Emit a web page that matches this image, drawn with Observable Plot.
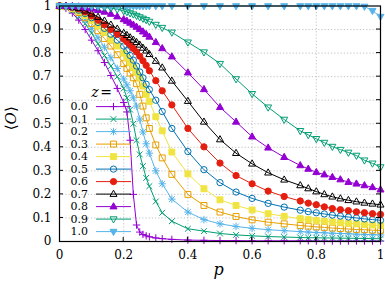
<!DOCTYPE html>
<html><head><meta charset="utf-8">
<script src="https://cdn.jsdelivr.net/npm/d3@7"></script>
<script src="https://cdn.jsdelivr.net/npm/@observablehq/plot@0.6"></script>
<style>
html,body{margin:0;padding:0;background:#fff;}
#chart{width:385px;height:282px;position:relative;}
#chart svg, #chart svg text, #chart svg tspan{font-family:"DejaVu Serif","Liberation Serif",serif !important;}
</style></head><body><div id="chart"></div>
<script>
// ---- data ----
const p = [0,0.02,0.04,0.06,0.08,0.1,0.12,0.14,0.16,0.18,0.2,0.21,0.22,0.23,0.24,0.25,0.26,0.27,0.28,0.3,0.32,0.35,0.4,0.45,0.5,0.55,0.6,0.65,0.7,0.75,0.775,0.8,0.825,0.85,0.875,0.9,0.925,0.95,0.975,1];
const zLabels = ["0.0","0.1","0.2","0.3","0.4","0.5","0.6","0.7","0.8","0.9","1.0"];
const z00 = [1,0.99,0.97,0.94,0.9, 0.855,0.81,0.76,0.705,0.65, 0.59,0.55,0.43,0.2,0.07, 0.04,0.03,0.024,0.02,0.015, 0.012,0.009,0.006,0.005,0.004, 0.004,0.003,0.003,0.003,0.003, 0.003,0.002,0.002,0.002,0.002, 0.002,0.002,0.002,0.002,0.002];
const z01 = [1,0.995,0.98,0.955,0.925, 0.885,0.84,0.79,0.745,0.7, 0.65,0.61,0.56,0.5,0.43, 0.37,0.32,0.27,0.235,0.17, 0.122,0.086,0.054,0.044,0.034, 0.028,0.024,0.021,0.019,0.017, 0.016,0.016,0.015,0.015,0.014, 0.014,0.013,0.013,0.012,0.012];
const z02 = [1,0.997,0.985,0.965,0.94, 0.905,0.865,0.825,0.78,0.735, 0.69,0.665,0.64,0.61,0.575, 0.52,0.465,0.415,0.375,0.3, 0.245,0.18,0.125,0.093,0.075, 0.064,0.056,0.05,0.046,0.042, 0.04,0.038,0.037,0.035,0.034, 0.033,0.031,0.03,0.029,0.028];
const z03 = [1,0.997,0.988,0.972,0.95, 0.925,0.895,0.862,0.83,0.793, 0.755,0.735,0.715,0.695,0.67, 0.625,0.575,0.525,0.48,0.41, 0.355,0.285,0.2,0.153,0.125, 0.106,0.092,0.082,0.075,0.068, 0.065,0.062,0.06,0.057,0.055, 0.053,0.051,0.05,0.048,0.047];
const z04 = [1,0.998,0.99,0.977,0.96, 0.94,0.915,0.888,0.858,0.83, 0.8,0.78,0.76,0.74,0.72, 0.695,0.66,0.625,0.595,0.53, 0.47,0.38,0.287,0.224,0.177, 0.153,0.134,0.118,0.107,0.097, 0.093,0.089,0.086,0.083,0.08, 0.077,0.075,0.072,0.07,0.068];
const z05 = [1,0.998,0.993,0.982,0.968, 0.95,0.93,0.905,0.88,0.855, 0.83,0.81,0.79,0.77,0.745, 0.72,0.695,0.668,0.645,0.6, 0.552,0.48,0.382,0.305,0.25, 0.21,0.183,0.162,0.146,0.133, 0.127,0.122,0.117,0.112,0.108, 0.104,0.1,0.096,0.093,0.09];
const z06 = [1,0.999,0.995,0.988,0.975, 0.958,0.94,0.92,0.9,0.88, 0.86,0.848,0.835,0.82,0.805, 0.787,0.767,0.748,0.725,0.683, 0.64,0.58,0.48,0.402,0.333, 0.28,0.245,0.214,0.191,0.172, 0.163,0.156,0.147,0.14,0.135, 0.131,0.126,0.122,0.118,0.115];
const z07 = [1,0.999,0.996,0.99,0.98, 0.967,0.953,0.937,0.92,0.903, 0.885,0.876,0.866,0.856,0.846, 0.835,0.822,0.81,0.795,0.766, 0.738,0.682,0.596,0.508,0.433, 0.375,0.33,0.292,0.262,0.238, 0.225,0.212,0.2,0.19,0.182, 0.175,0.169,0.164,0.16,0.156];
const z08 = [1,1,0.999,0.997,0.993, 0.988,0.982,0.975,0.966,0.955, 0.943,0.936,0.928,0.92,0.911, 0.901,0.891,0.88,0.869,0.846, 0.82,0.785,0.717,0.646,0.57, 0.508,0.445,0.398,0.358,0.323, 0.308,0.294,0.284,0.273,0.263, 0.252,0.245,0.238,0.23,0.22];
const z09 = [1,1,1,0.999,0.999, 0.998,0.996,0.994,0.991,0.986, 0.979,0.975,0.97,0.965,0.959, 0.953,0.947,0.941,0.934,0.921, 0.908,0.888,0.846,0.804,0.755, 0.69,0.627,0.57,0.518,0.47, 0.453,0.436,0.42,0.403,0.39, 0.378,0.365,0.345,0.332,0.316];
const z10 = [1,1,1,1,1, 1,1,1,1,1, 1,1,1,1,1, 1,1,1,1,1, 1,1,1,1,1, 1,1,1,1,1, 1,1,1,1,1, 1,1,0.998,0.98,0.955];
const xTicks = [0,0.2,0.4,0.6,0.8,1];
const xTickLabels = ["0","0.2","0.4","0.6","0.8","1"];
const yTicks = [0,0.1,0.2,0.3,0.4,0.5,0.6,0.7,0.8,0.9,1];
const yTickLabels = ["0","0.1","0.2","0.3","0.4","0.5","0.6","0.7","0.8","0.9","1"];

// ---- styles ----
const series = [z00,z01,z02,z03,z04,z05,z06,z07,z08,z09,z10];
const colors = ["#9400d3","#009e73","#56b4e9","#e69f00","#f0e442","#0072b2","#e51e10","#000000","#9400d3","#009e73","#56b4e9"];
const symbolNames = ["plus","times","asterisk","square","square","circle","circle","triangle","triangle","triangleDown","triangleDown"];
const filled = [false,false,false,false,true,false,true,false,true,false,true];
const SERIF = "DejaVu Serif";

function sym(name){
  return {draw(c, size){
    const r = Math.sqrt(size/Math.PI);
    const a = r*0.78;
    switch(name){
      case "plus": c.moveTo(-r,0);c.lineTo(r,0);c.moveTo(0,-r);c.lineTo(0,r);break;
      case "times": c.moveTo(-a,-a);c.lineTo(a,a);c.moveTo(-a,a);c.lineTo(a,-a);break;
      case "asterisk": c.moveTo(-r,0);c.lineTo(r,0);c.moveTo(0,-r);c.lineTo(0,r);
        c.moveTo(-a,-a);c.lineTo(a,a);c.moveTo(-a,a);c.lineTo(a,-a);break;
      case "square": {const s=r*0.8; c.rect(-s,-s,2*s,2*s);break;}
      case "circle": {const s=r*0.85; c.moveTo(s,0); c.arc(0,0,s,0,2*Math.PI); break;}
      case "triangle": c.moveTo(0,-r*1.05);c.lineTo(r*0.95,r*0.62);c.lineTo(-r*0.95,r*0.62);c.closePath();break;
      case "triangleDown": c.moveTo(0,r*1.05);c.lineTo(r*0.95,-r*0.62);c.lineTo(-r*0.95,-r*0.62);c.closePath();break;
    }
  }};
}

const W=385,H=282, mL=59, mR=5, mT=5.5, mB=41;
const marks = [
  Plot.ruleX(xTicks.slice(1,-1), {stroke:"#a8a8a8", strokeWidth:0.7, strokeDasharray:"1.2,2"}),
  Plot.ruleY(yTicks.slice(1,-1), {stroke:"#a8a8a8", strokeWidth:0.7, strokeDasharray:"1.2,2"})
];
series.forEach((vals,i)=>{
  const data = p.map((pp,j)=>({p:pp, O:vals[j]}));
  marks.push(Plot.line(data,{x:"p",y:"O",stroke:colors[i],strokeWidth:1}));
  marks.push(Plot.dot(data,{x:"p",y:"O",symbol:sym(symbolNames[i]),r:3.7,stroke:colors[i],
    fill: filled[i]?colors[i]:"none", strokeWidth:1}));
});
marks.push(Plot.axisX({ticks:xTicks, tickFormat:d=>xTickLabels[xTicks.indexOf(d)], tickSize:0, tickPadding:9, label:null, fontSize:12}));
marks.push(Plot.axisY({ticks:yTicks, tickFormat:d=>yTickLabels[yTicks.indexOf(d)], tickSize:0, tickPadding:8, label:null, fontSize:12}));
marks.push(Plot.frame({stroke:"black", strokeWidth:1.2}));

const plot = Plot.plot({
  width:W, height:H, marginLeft:mL, marginRight:mR, marginTop:mT, marginBottom:mB,
  x:{domain:[0,1], axis:null}, y:{domain:[0,1], axis:null},
  style:{fontFamily:SERIF, fontSize:"12px", background:"white", color:"black", overflow:"visible"},
  marks
});
document.getElementById("chart").appendChild(plot);

// ---- overlay: inward ticks, axis titles, legend ----
const sx = plot.scale("x"), sy = plot.scale("y");
const X = v => sx.apply ? sx.apply(v) : d3.scaleLinear(sx.domain, sx.range)(v);
const Y = v => sy.apply ? sy.apply(v) : d3.scaleLinear(sy.domain, sy.range)(v);
const svg = d3.select(plot);
const g = svg.append("g").attr("stroke","black").attr("stroke-width",1);
xTicks.slice(1,-1).forEach(t=>{
  g.append("line").attr("x1",X(t)).attr("x2",X(t)).attr("y1",Y(0)).attr("y2",Y(0)-4);
  g.append("line").attr("x1",X(t)).attr("x2",X(t)).attr("y1",Y(1)).attr("y2",Y(1)+4);
});
yTicks.slice(1,-1).forEach(t=>{
  g.append("line").attr("y1",Y(t)).attr("y2",Y(t)).attr("x1",X(0)).attr("x2",X(0)+4);
  g.append("line").attr("y1",Y(t)).attr("y2",Y(t)).attr("x1",X(1)).attr("x2",X(1)-4);
});
const t = svg.append("g").attr("fill","black");
t.append("text").attr("x",(X(0)+X(1))/2 - 1).attr("y",275).attr("text-anchor","middle")
  .attr("font-size",16).attr("font-style","italic").text("p");
const yl = t.append("text").attr("transform",`translate(16,${(Y(0)+Y(1))/2 - 5}) rotate(-90)`)
  .attr("text-anchor","middle").attr("font-size",15);
yl.append("tspan").text("⟨");
yl.append("tspan").attr("font-style","italic").text("O");
yl.append("tspan").text("⟩");

// legend
const lg = svg.append("g");
lg.append("text").attr("x",95).attr("y",97).attr("font-size",14)
  .attr("font-style","italic").text("z");
lg.append("text").attr("x",106).attr("y",97).attr("font-size",14).text("=");
zLabels.forEach((lab,i)=>{
  const yy = 106.6 + i*12.5;
  lg.append("text").attr("x",88).attr("y",yy).attr("dy","0.35em").attr("text-anchor","end")
    .attr("font-size",11).text(lab);
  lg.append("line").attr("x1",96).attr("x2",131).attr("y1",yy).attr("y2",yy)
    .attr("stroke",colors[i]).attr("stroke-width",1);
  const path = d3.path();
  sym(symbolNames[i]).draw(path, Math.PI*3.7*3.7);
  lg.append("path").attr("d",path.toString()).attr("transform",`translate(113.5,${yy})`)
    .attr("stroke",colors[i]).attr("fill",filled[i]?colors[i]:"none").attr("stroke-width",1);
});
</script></body></html>
